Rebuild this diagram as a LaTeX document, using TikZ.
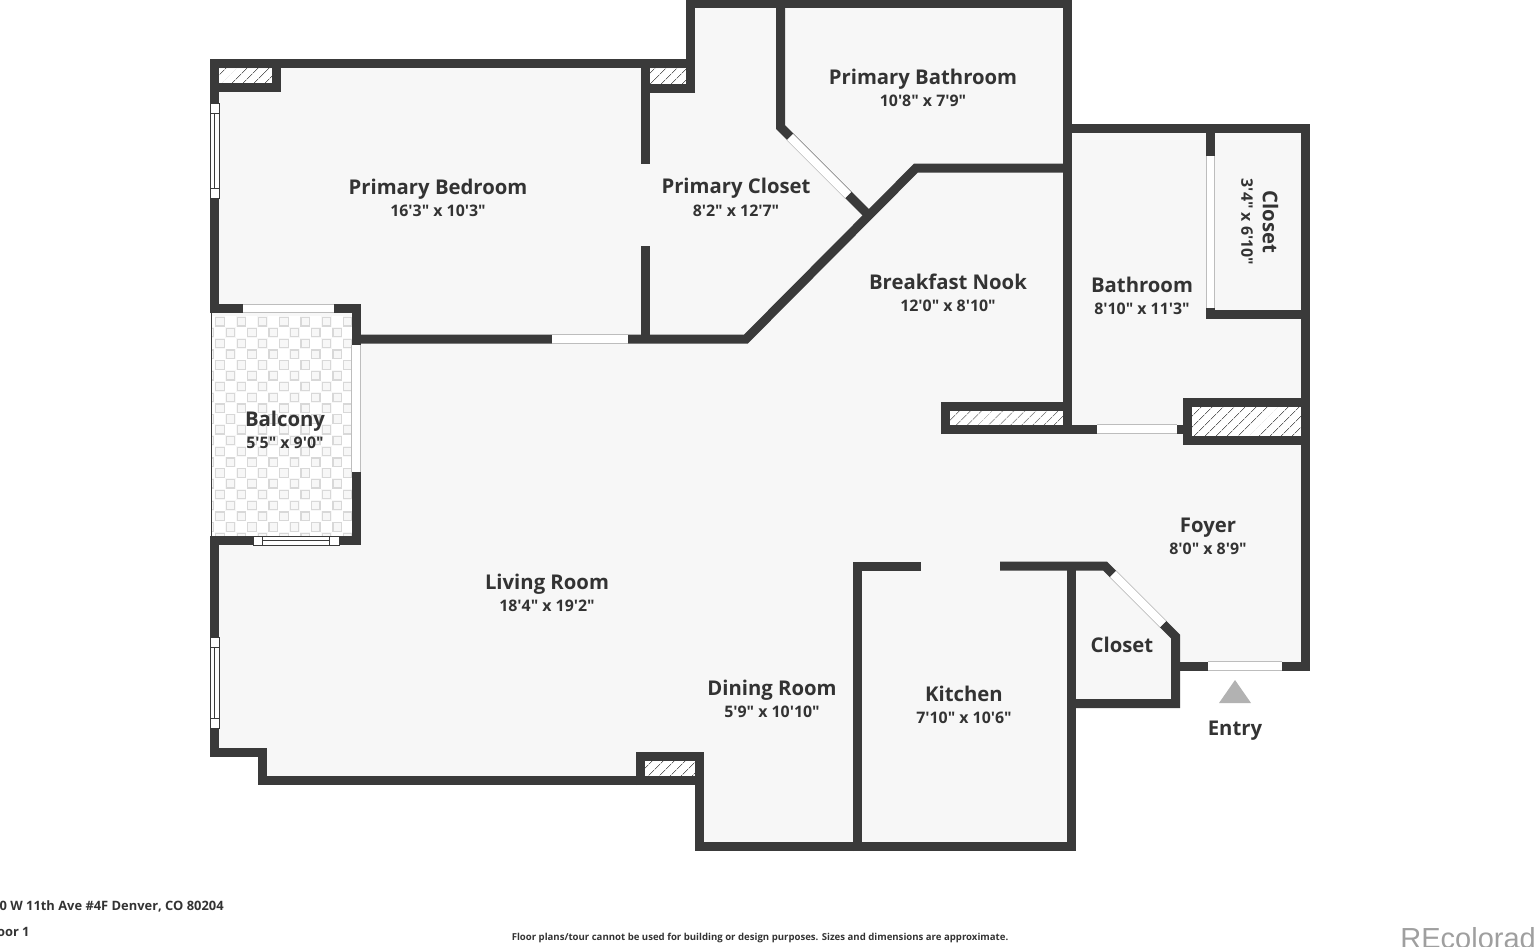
\documentclass[tikz,border=0pt]{standalone}
\usepackage{fontspec}
\setmainfont{Open Sans}[Ligatures=TeXOff]
\setsansfont{Liberation Sans}
\usetikzlibrary{patterns.meta}
\definecolor{wallgray}{HTML}{3A3A3A}
\definecolor{floorgray}{HTML}{F7F7F7}
\definecolor{gapline}{HTML}{BDBDBD}
\definecolor{inkgray}{HTML}{333333}
\definecolor{tilegray}{HTML}{D8D8D8}
\tikzset{
	wall/.style={draw=wallgray,line width=4.5pt,miter limit=10},
	opening/.style={draw=gapline,line width=.4pt,double=white,double distance=3.9pt},
	frameline/.style={draw=wallgray,line width=.4pt},
	hatchbox/.style={preaction={fill=white},pattern={Lines[angle=45,distance=4pt,line width=.35pt]},pattern color=wallgray!80},
	roomname/.style={font=\bfseries\fontsize{10.15}{12}\selectfont,text=inkgray,inner sep=0pt,text height=7.25pt,text depth=0pt},
	roomsize/.style={font=\bfseries\fontsize{7.95}{10}\selectfont,text=inkgray,inner sep=0pt,text height=5.7pt,text depth=0pt},
	footnote/.style={font=\bfseries\fontsize{6.45}{8}\selectfont,text=inkgray,inner sep=0pt,text height=4.6pt,text depth=0pt}
}
\begin{document}
\begin{tikzpicture}[x=0.5pt,y=-0.5pt]
	\useasboundingbox (0,0) rectangle (1536,947);
	% floor
	\fill[floorgray] (214,64) -- (690,64) -- (690,4) -- (1067,4) -- (1067,128) -- (1306,128) -- (1306,666) -- (1175,666) -- (1175,704) -- (1071,704) -- (1071,846) -- (699,846) -- (699,780) -- (262,780) -- (262,752) -- (214,752) -- cycle;
	% balcony tiles
	\fill[white!97!black] (211,309) rectangle (356,540);
	\begin{scope}
		\clip (212,313) rectangle (352,536);
		\foreach \row in {1,...,21} {
			\pgfmathsetmacro{\rowy}{321.7+10.8*\row-10.8}
			\pgfmathsetmacro{\rowx}{mod(\row,2)==1 ? 220 : 230.6}
			\foreach \col in {-1,...,7} {
				\pgfmathsetmacro{\tilex}{\rowx+21.3*\col}
				\fill[white] (\tilex+10.65-5.5,\rowy-5.5) rectangle +(11,11);
				\draw[tilegray,line width=.6pt] (\tilex-4.2,\rowy-4.2) rectangle +(8.4,8.4);
			}
		}
	\end{scope}
	% hatched columns
	\path[hatchbox] (218,69) rectangle (273,84);
	\path[hatchbox] (650,69) rectangle (687,84);
	\path[hatchbox] (949,411) rectangle (1064,425);
	\path[hatchbox] (1191,407) rectangle (1303,437);
	\path[hatchbox] (644,760) rectangle (696,777);
	% walls
	\draw[wall] (214.5,313) -- (214.5,64) -- (690.5,64);
	\draw[wall] (210,88) -- (276.5,88) -- (276.5,60);
	\draw[wall] (695,88.5) -- (645.5,88.5);
	\draw[wall] (690.5,93) -- (690.5,4) -- (1067.5,4) -- (1067.5,434);
	\draw[wall] (645.5,60) -- (645.5,164);
	\draw[wall] (645.5,246) -- (645.5,343);
	\draw[wall] (780.5,4) -- (780.5,127) -- (868,214.5);
	\draw[wall] (356,339) -- (746,339) -- (916,168) -- (1067.5,168);
	\draw[wall] (210,308.5) -- (356,308.5) -- (356,540.5) -- (210,540.5);
	\draw[wall] (214.5,536) -- (214.5,752.5) -- (262.5,752.5) -- (262.5,780.5) -- (644,780.5);
	\draw[wall] (640.5,785) -- (640.5,756.5) -- (699.5,756.5) -- (699.5,846.5) -- (1071.5,846.5) -- (1071.5,562);
	\draw[wall] (640.5,780.5) -- (699.5,780.5);
	\draw[wall] (857.5,851) -- (857.5,566) -- (921,566);
	\draw[wall] (1000,566) -- (1105,566) -- (1175.5,636.5) -- (1175.5,703.5) -- (1071.5,703.5);
	\draw[wall] (1175.5,666) -- (1305.5,666) -- (1305.5,128.5) -- (1067.5,128.5);
	\draw[wall] (1210.5,128.5) -- (1210.5,314.5) -- (1305.5,314.5);
	\draw[wall] (945.5,434) -- (945.5,406.5) -- (1067.5,406.5);
	\draw[wall] (945.5,429) -- (1184,429);
	\draw[wall] (1305.5,402.5) -- (1187.5,402.5) -- (1187.5,440.5) -- (1305.5,440.5);
	% openings
	\draw[opening] (243,308.5) -- (334,308.5);
	\draw[opening] (356,345) -- (356,472);
	\draw[opening] (552,339) -- (628,339);
	\draw[opening] (790,137) -- (848,195);
	\draw[opening] (1097,429) -- (1177,429);
	\draw[opening] (1113,574) -- (1163,624);
	\draw[opening] (1208,666) -- (1282,666);
	\draw[opening] (1210.5,156) -- (1210.5,308);
	% windows
	\foreach \winy/\winh in {103/95,637/91} {
		\fill[white] (210,\winy) rectangle +(9,\winh);
		\draw[frameline] (210,\winy) rectangle +(9,\winh);
		\draw[frameline] (214.5,\winy+10) -- +(0,\winh-20);
		\draw[frameline] (210,\winy+10) -- +(9,0);
		\draw[frameline] (210,\winy+\winh-10) -- +(9,0);
	}
	\fill[white] (253,536) rectangle (339,545);
	\draw[frameline] (253,536) rectangle (339,545);
	\draw[frameline] (262,536) -- (262,545);
	\draw[frameline] (329,536) -- (329,545);
	\draw[frameline] (262,540.5) -- (329,540.5);
	\draw[frameline] (211,313) -- (211,536);
	% entry mark
	\fill[gray!60] (1235,680) -- (1251,703) -- (1219,703) -- cycle;
	% labels
	\node[roomname] (bedname) at (438,187) {Primary Bedroom};
	\node[roomsize] (bedsize) at (438,211) {16'3" x 10'3"};
	\node[roomname] (wardname) at (736,186) {Primary Closet};
	\node[roomsize] (wardsize) at (736,211) {8'2" x 12'7"};
	\node[roomname] (pbathname) at (923,77) {Primary Bathroom};
	\node[roomsize] (pbathsize) at (923,101) {10'8" x 7'9"};
	\node[roomname] (nookname) at (948,282) {Breakfast Nook};
	\node[roomsize] (nooksize) at (948,306) {12'0" x 8'10"};
	\node[roomname] (bathname) at (1142,285) {Bathroom};
	\node[roomsize] (bathsize) at (1142,309) {8'10" x 11'3"};
	\node[roomname,rotate=-90] (closetname) at (1270,222) {Closet};
	\node[roomsize,rotate=-90] (closetsize) at (1247,222) {3'4" x 6'10"};
	\node[roomname] (balcname) at (285,419) {Balcony};
	\node[roomsize] (balcsize) at (285,443) {5'5" x 9'0"};
	\node[roomname] (livename) at (547,582) {Living Room};
	\node[roomsize] (livesize) at (547,606) {18'4" x 19'2"};
	\node[roomname] (foyername) at (1208,525) {Foyer};
	\node[roomsize] (foyersize) at (1208,549) {8'0" x 8'9"};
	\node[roomname] (coatname) at (1122,645) {Closet};
	\node[roomname] (dinename) at (772,688) {Dining Room};
	\node[roomsize] (dinesize) at (772,712) {5'9" x 10'10"};
	\node[roomname] (kitname) at (964,694) {Kitchen};
	\node[roomsize] (kitsize) at (964,718) {7'10" x 10'6"};
	\node[roomname] (entryname) at (1235,728) {Entry};
	% footer
	\node[footnote,anchor=east] (addr) at (224,906) {00 W 11th Ave \#4F Denver, CO 80204};
	\node[footnote,anchor=east] (floorno) at (30,932) {oor 1};
	\node[font=\bfseries\fontsize{4.8}{6}\selectfont,text=inkgray,inner sep=0pt] (disclaimer) at (760,938) {Floor plans/tour cannot be used for building or design purposes. Sizes and dimensions are approximate.};
	\node[font=\sffamily\fontsize{14.5}{16}\selectfont,text=gray!75,inner sep=0pt,anchor=base west] (brand) at (1400,948.5) {REcolorado};
\end{tikzpicture}
\end{document}
